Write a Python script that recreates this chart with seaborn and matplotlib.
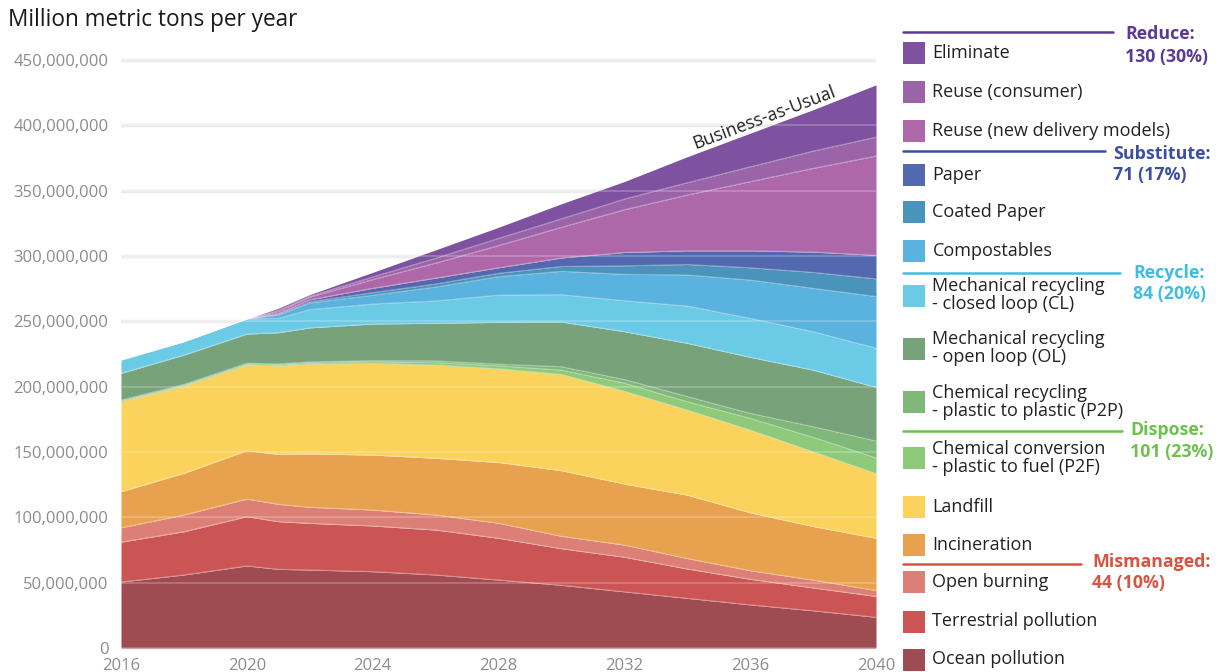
import matplotlib
matplotlib.use("Agg")
import matplotlib.pyplot as plt
import seaborn as sns
import numpy as np
from matplotlib.patches import Rectangle
from matplotlib.lines import Line2D
from matplotlib.ticker import FuncFormatter

# ---- data: million metric tons per year, by fate of plastic waste ----
years = [2016, 2018, 2020, 2021, 2022, 2024, 2026, 2028, 2030, 2032, 2034, 2036, 2038, 2040]

ocean_pollution       = [50.5, 55.9, 62.8, 60.2, 59.7, 58.4, 55.9, 52.0, 48.0, 43.0, 38.0, 33.0, 28.5, 23.5]
terrestrial_pollution = [30.5, 33.1, 37.7, 36.5, 35.7, 35.0, 34.4, 32.0, 28.0, 26.5, 22.5, 19.6, 17.5, 16.0]
open_burning          = [11.0, 12.8, 13.5, 13.3, 12.3, 12.2, 11.5, 11.5, 9.5, 9.3, 8.0, 6.6, 6.0, 4.5]
incineration          = [27.6, 31.9, 37.0, 38.2, 40.8, 42.1, 43.4, 46.5, 50.2, 46.7, 48.5, 44.3, 41.0, 40.0]
landfill              = [68.9, 66.8, 65.6, 67.8, 68.8, 70.2, 71.4, 71.7, 73.7, 71.0, 65.1, 63.3, 57.2, 49.5]
chem_p2f              = [0.5, 0.5, 0.6, 0.8, 0.9, 1.3, 1.8, 2.3, 3.3, 6.2, 6.4, 9.0, 11.1, 12.0]
chem_p2p              = [0.8, 0.8, 0.8, 0.7, 0.8, 0.8, 1.4, 1.3, 2.6, 2.8, 4.0, 3.8, 8.1, 13.0]
mech_open_loop        = [20.4, 22.4, 22.3, 23.8, 26.0, 28.0, 28.7, 31.9, 34.2, 36.6, 40.7, 42.9, 43.3, 41.0]
mech_closed_loop      = [10.2, 10.2, 11.5, 11.0, 14.0, 15.3, 17.1, 20.9, 20.9, 23.7, 28.5, 29.8, 29.4, 30.0]
compostables          = [0, 0, 0, 2.5, 5.0, 6.7, 10.7, 14.1, 17.9, 20.2, 23.8, 29.3, 33.2, 39.5]
coated_paper          = [0, 0, 0, 0.5, 1.0, 2.0, 2.3, 2.6, 3.7, 6.5, 8.0, 9.4, 12.2, 13.5]
paper                 = [0, 0, 0, 0.7, 1.5, 3.3, 4.5, 4.2, 6.5, 10.2, 10.5, 13.0, 15.5, 18.0]
reuse_new_delivery    = [0, 0, 0, 1.5, 2.0, 6.7, 11.5, 17.0, 23.5, 32.7, 42.7, 52.9, 64.1, 76.0]
reuse_consumer        = [0, 0, 0, 1.0, 0.8, 2.0, 3.7, 5.5, 6.5, 8.2, 9.4, 11.4, 13.2, 14.5]
eliminate             = [0, 0, 0, 1.5, 1.2, 3.5, 6.4, 8.5, 11.5, 13.4, 19.9, 25.7, 31.7, 40.0]

# stacking order, bottom to top
series = [
    ("Ocean pollution", ocean_pollution, "#9E4C52"),
    ("Terrestrial pollution", terrestrial_pollution, "#CB5454"),
    ("Open burning", open_burning, "#DC7F77"),
    ("Incineration", incineration, "#E8A14E"),
    ("Landfill", landfill, "#FBD35C"),
    ("Chemical conversion\n- plastic to fuel (P2F)", chem_p2f, "#8ECA7A"),
    ("Chemical recycling\n- plastic to plastic (P2P)", chem_p2p, "#7FB878"),
    ("Mechanical recycling\n- open loop (OL)", mech_open_loop, "#77A27A"),
    ("Mechanical recycling\n- closed loop (CL)", mech_closed_loop, "#6BCBE6"),
    ("Compostables", compostables, "#5AB2DF"),
    ("Coated Paper", coated_paper, "#4A93BA"),
    ("Paper", paper, "#5269B0"),
    ("Reuse (new delivery models)", reuse_new_delivery, "#AE67A8"),
    ("Reuse (consumer)", reuse_consumer, "#9B63A8"),
    ("Eliminate", eliminate, "#7E52A0"),
]

groups = [
    ("Reduce:", "130 (30%)", "#5B3A93"),
    ("Substitute:", "71 (17%)", "#3B4FA0"),
    ("Recycle:", "84 (20%)", "#3EBDE6"),
    ("Dispose:", "101 (23%)", "#6DC14F"),
    ("Mismanaged:", "44 (10%)", "#D65440"),
]

# ---- style ----
sns.set_theme(style="white")
plt.rcParams["font.family"] = ["Open Sans", "DejaVu Sans"]

W, H = 1219, 672
fig = plt.figure(figsize=(W / 100, H / 100), dpi=100)
ax = fig.add_axes([121 / W, 24 / H, 755 / W, (648 - 53.5) / H])

values = [np.array(v) * 1e6 for _, v, _ in series]
colors = [c for _, _, c in series]
ax.stackplot(years, *values, colors=colors, linewidth=0, zorder=2)

# faint light seams between layers
cum = np.cumsum(values, axis=0)
for row in cum[:-1]:
    sns.lineplot(x=years, y=row, color="white", alpha=0.35, linewidth=0.7, ax=ax, zorder=3)

ax.set_xlim(2016, 2040)
ax.set_ylim(0, 455e6)
yt = np.arange(0, 450e6 + 1, 50e6)
ax.set_yticks(yt)
ax.set_xticks([2016, 2020, 2024, 2028, 2032, 2036, 2040])
ax.yaxis.set_major_formatter(FuncFormatter(lambda v, p: f"{v:,.0f}"))
ax.grid(axis="y", color="#ebebeb", linewidth=2.5, zorder=0)
ax.grid(axis="x", visible=False)
ax.set_axisbelow(True)
for v in yt:
    ax.axhline(v, color="white", alpha=0.25, linewidth=1.2, zorder=4)
for s in ax.spines.values():
    s.set_visible(False)
ax.tick_params(axis="both", length=0, labelsize=12, labelcolor="#8c8c8c")
ax.tick_params(axis="y", pad=9)
ax.tick_params(axis="x", pad=7)
ax.set_xlabel("")
ax.set_ylabel("")

ax.text(2036.45, 405.6e6, "Business-as-Usual", rotation=20.6, rotation_mode="anchor",
        ha="center", va="center", fontsize=13, color="#222222", zorder=5)

fig.text(8 / W, 1 - 20 / H, "Million metric tons per year", fontsize=16.3,
         color="#1a1a1a", ha="left", va="center")

# ---- legend drawn on the right ----
def fx(x):
    return x / W

def fy(y):
    return 1 - y / H

row_centers = {
    "Eliminate": 53.3, "Reuse (consumer)": 92, "Reuse (new delivery models)": 130.5,
    "Paper": 174.5, "Coated Paper": 212, "Compostables": 250.5,
    "Mechanical recycling\n- closed loop (CL)": 295.5,
    "Mechanical recycling\n- open loop (OL)": 348.5,
    "Chemical recycling\n- plastic to plastic (P2P)": 402,
    "Chemical conversion\n- plastic to fuel (P2F)": 457.5,
    "Landfill": 506.5, "Incineration": 544.7, "Open burning": 582,
    "Terrestrial pollution": 621.5, "Ocean pollution": 659.5,
}
for label, _, color in series:
    yc = row_centers[label]
    fig.patches.append(Rectangle((fx(903), fy(yc + 11)), 22 / W, 22 / H,
                                 transform=fig.transFigure, facecolor=color, edgecolor="none"))
    fig.text(fx(932.5), fy(yc), label, fontsize=13, color="#222222",
             ha="left", va="center", linespacing=1.0)

group_pos = [
    (31.7, 1113, 1125, 34.3, 56.7),
    (151, 1105, 1113, 154, 175.3),
    (272.7, 1120, 1133, 272.7, 294.3),
    (431, 1121.5, 1130.5, 430, 451.7),
    (564, 1081, 1092, 561.7, 583.3),
]
for (name, total, color), (ly, lx2, tx, ty1, ty2) in zip(groups, group_pos):
    fig.add_artist(Line2D([fx(903), fx(lx2)], [fy(ly), fy(ly)], transform=fig.transFigure,
                          color=color, linewidth=1.8))
    fig.text(fx(tx), fy(ty1), name, fontsize=12.8, fontweight="bold", color=color,
             ha="left", va="center")
    fig.text(fx(tx), fy(ty2), total, fontsize=12.8, fontweight="bold", color=color,
             ha="left", va="center")

fig.savefig("out.png", dpi=100)
